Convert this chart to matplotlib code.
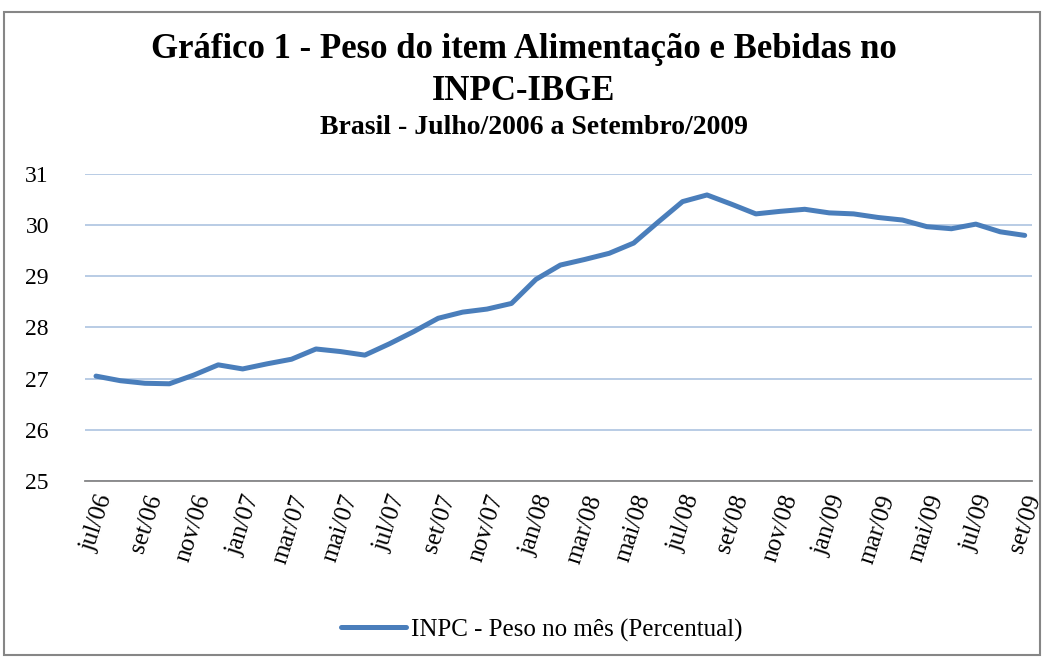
import matplotlib.pyplot as plt
from matplotlib.patches import Rectangle

# meses jul/06 .. set/09
meses = ['jul', 'ago', 'set', 'out', 'nov', 'dez', 'jan', 'fev', 'mar', 'abr', 'mai', 'jun']
anos = ['06'] * 6 + ['07'] * 12 + ['08'] * 12 + ['09'] * 9
rotulos = [meses[i % 12] + '/' + anos[i] for i in range(39)]

peso = [27.05, 26.96, 26.91, 26.90, 27.07, 27.27, 27.19, 27.29, 27.38, 27.58,
        27.53, 27.46, 27.68, 27.92, 28.18, 28.30, 28.36, 28.47, 28.94, 29.22,
        29.33, 29.45, 29.65, 30.06, 30.46, 30.59, 30.41, 30.22, 30.27, 30.31,
        30.24, 30.22, 30.15, 30.10, 29.97, 29.93, 30.02, 29.87, 29.80]

yticks = [25, 26, 27, 28, 29, 30, 31]

plt.rcParams['font.family'] = ['Liberation Serif', 'DejaVu Serif']

fig = plt.figure(figsize=(10.47, 6.6), dpi=100)
fig.patches.append(Rectangle((4 / 1047, 5 / 660), 1036 / 1047, 643 / 660,
                             transform=fig.transFigure, fill=False,
                             edgecolor='#868686', linewidth=1.5))

ax = fig.add_axes([0.0812, 0.2712, 0.9045, 0.4652])
x = list(range(len(peso)))
ax.plot(x, peso, color='#4a7ebb', linewidth=3.6, solid_capstyle='round',
        label='INPC - Peso no mês (Percentual)')

ax.set_ylim(25, 31)
ax.set_xlim(-0.45, 38.3)
ax.set_yticks(yticks)
ax.set_yticklabels([str(v) for v in yticks], fontsize=17)
ax.yaxis.grid(True, color='#b3c8e3', linewidth=1.3)
ax.set_axisbelow(True)
ax.set_xticks(x[::2])
ax.set_xticklabels(rotulos[::2], rotation=72, fontsize=18, ha='right',
                   rotation_mode='anchor')
ax.tick_params(axis='both', length=0, pad=8)
ax.tick_params(axis='y', pad=26)
for s in ['top', 'right', 'left']:
    ax.spines[s].set_visible(False)
ax.spines['bottom'].set_color('#868686')
ax.spines['bottom'].set_linewidth(1.3)

fig.text(0.5, 1 - 50 / 660, 'Gráfico 1 - Peso do item Alimentação e Bebidas no',
         ha='center', va='center', fontsize=25, fontweight='bold')
fig.text(0.5, 1 - 92 / 660, 'INPC-IBGE', ha='center', va='center',
         fontsize=25, fontweight='bold')
fig.text(0.51, 1 - 128 / 660, 'Brasil - Julho/2006 a Setembro/2009',
         ha='center', va='center', fontsize=20, fontweight='bold')

fig.legend(loc='center', bbox_to_anchor=(0.517, 1 - 630 / 660), frameon=False,
           fontsize=18, handlelength=2.6, handletextpad=0.2)

fig.savefig('out.png', dpi=100)
